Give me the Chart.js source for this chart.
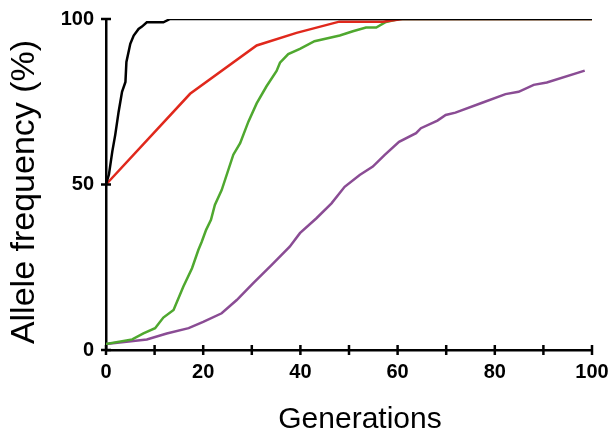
<!DOCTYPE html>
<html>
<head>
<meta charset="utf-8">
<script src="https://cdn.jsdelivr.net/npm/chart.js@4/dist/chart.umd.min.js"></script>
<style>
  html, body { margin: 0; padding: 0; background: #fff; }
  #wrap { width: 609px; height: 432px; position: relative; }
</style>
</head>
<body>
<div id="wrap"><canvas id="grafico"></canvas></div>
<script>
// valores (geracoes, frequencia %)
const blackGen  = [0, 0.6, 1.3, 1.9, 2.6, 3.3, 4.0, 4.2, 5.0, 5.7, 6.7, 7.4, 8.4, 11.8, 13.2, 100]
const blackFreq = [50, 53, 60, 65, 72, 78, 81, 87, 92.5, 95, 97, 97.7, 99, 99, 100, 100]

const redGen  = [0, 17.3, 31, 39.2, 48, 57, 61, 100]
const redFreq = [50, 77.4, 92, 95.8, 99.2, 99.2, 100, 100]

const greenGen  = [0, 5.4, 7.7, 10.1, 11.8, 13.9, 15.9, 17.7, 19.0, 19.7, 20.6, 21.6, 22.4, 23.8, 26.2, 27.6, 29.3, 31.0, 33.0, 35.1, 35.8, 37.5, 39.9, 42.9, 48.1, 50.8, 53.5, 55.6, 57.6, 60.3, 100]
const greenFreq = [1.8, 3.2, 5.0, 6.6, 9.8, 12.1, 19.1, 24.7, 30.2, 32.7, 36.3, 39.3, 43.8, 48.3, 59, 62.5, 69, 74.5, 79.6, 84.3, 86.8, 89.4, 91, 93.3, 95, 96.3, 97.4, 97.4, 99.1, 100, 100]

const purpleGen  = [0, 8.4, 12.5, 17, 20, 23.8, 26.9, 30.3, 34.1, 37.8, 39.9, 43.3, 46.4, 49.1, 52.2, 54.9, 57.3, 60.3, 63.8, 64.8, 68.2, 69.9, 71.9, 77.4, 82.2, 84.9, 88, 90.7, 98.5]
const purpleFreq = [1.8, 3.2, 5.0, 6.6, 8.5, 11.1, 15.1, 20.2, 25.7, 31.2, 35.3, 39.8, 44.3, 49.3, 52.9, 55.4, 58.9, 62.9, 65.5, 67.0, 69.3, 71.0, 71.7, 74.7, 77.3, 78.0, 80.1, 80.8, 84.4]

const xTitle = "Generations"
const yTitle = "Allele frequency (%)"

function pontos(gen, freq){
    return gen.map((g, i) => ({x: g, y: freq[i]}))
}

function serie(gen, freq, cor){
    return {
        data: pontos(gen, freq),
        borderColor: cor,
        borderWidth: 2.5,
        pointRadius: 0,
        tension: 0,
        fill: false
    }
}

// tracinhos dos ticks a cruzar o eixo + titulos dos eixos
const ticksCruzados = {
    id: "ticksCruzados",
    afterDatasetsDraw(chart){
        const ctx = chart.ctx
        const xs = chart.scales.x
        const ys = chart.scales.y
        const area = chart.chartArea
        ctx.save()
        ctx.strokeStyle = "#000"
        ctx.lineWidth = 2.5
        xs.ticks.forEach(t => {
            let px = xs.getPixelForValue(t.value)
            ctx.beginPath()
            ctx.moveTo(px, area.bottom - 5)
            ctx.lineTo(px, area.bottom + 5)
            ctx.stroke()
        })
        ys.ticks.forEach(t => {
            let py = ys.getPixelForValue(t.value)
            ctx.beginPath()
            ctx.moveTo(area.left - 5, py)
            ctx.lineTo(area.left + 5, py)
            ctx.stroke()
        })

        ctx.fillStyle = "#000"
        ctx.textAlign = "center"
        ctx.textBaseline = "alphabetic"
        // titulo x
        ctx.font = "30px 'Liberation Sans', Arial, sans-serif"
        ctx.fillText(xTitle, (area.left + area.right) / 2 + 11, 428)
        // titulo y (rodado)
        ctx.translate(34, 192)
        ctx.rotate(-Math.PI / 2)
        ctx.font = "34px 'Liberation Sans', Arial, sans-serif"
        ctx.fillText(yTitle, 0, 0)
        ctx.restore()
    }
}

const fonteTicks = {family: "'Liberation Sans', Arial, sans-serif", size: 20, weight: "bold"}

new Chart(document.getElementById("grafico"), {
    type: "line",
    data: {
        datasets: [
            serie(blackGen, blackFreq, "#000000"),
            serie(redGen, redFreq, "#e0281c"),
            serie(greenGen, greenFreq, "#4fa82f"),
            serie(purpleGen, purpleFreq, "#8a4c94")
        ]
    },
    options: {
        responsive: true,
        maintainAspectRatio: false,
        animation: false,
        layout: { padding: {top: 19, right: 17, left: 0, bottom: 0} },
        plugins: { legend: {display: false}, tooltip: {enabled: false} },
        scales: {
            x: {
                type: "linear",
                min: 0, max: 100,
                afterFit(scale){
                    scale.height = 82
                    scale.paddingLeft = 0
                    scale.paddingRight = 0
                },
                border: {display: true, color: "#000", width: 2.5},
                grid: {display: true, drawOnChartArea: false, drawTicks: false, color: "rgba(0,0,0,0)"},
                ticks: {
                    stepSize: 10,
                    padding: 10,
                    color: "#000",
                    font: fonteTicks,
                    maxRotation: 0,
                    autoSkip: false,
                    callback: v => (v % 20 === 0 ? v : "")
                }
            },
            y: {
                min: 0, max: 100,
                afterFit(scale){
                    scale.width = 106
                    scale.paddingTop = 0
                    scale.paddingBottom = 0
                },
                border: {display: true, color: "#000", width: 2.5},
                grid: {display: true, drawOnChartArea: false, drawTicks: false, color: "rgba(0,0,0,0)"},
                ticks: {
                    stepSize: 50,
                    padding: 12,
                    color: "#000",
                    font: fonteTicks
                }
            }
        }
    },
    plugins: [ticksCruzados]
})
</script>
</body>
</html>
